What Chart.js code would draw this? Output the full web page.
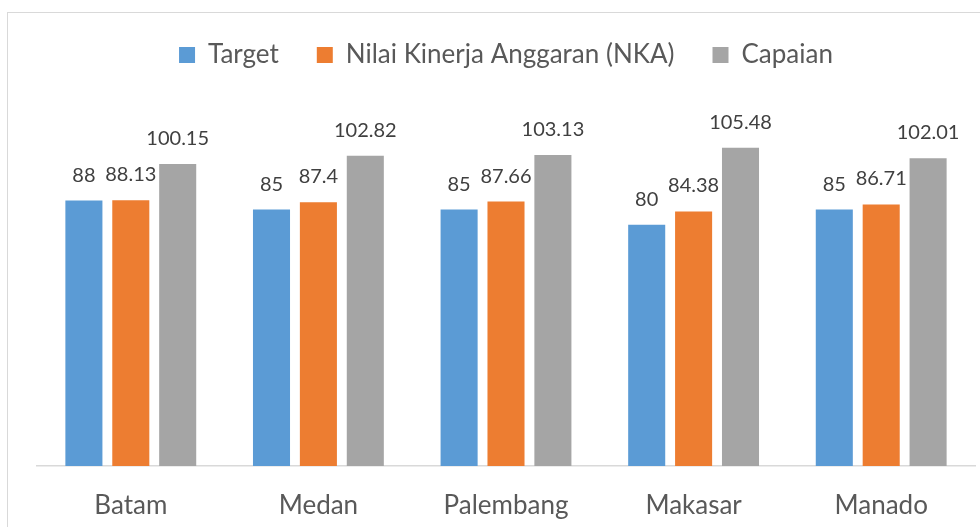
<!DOCTYPE html>
<html>
<head>
<meta charset="utf-8">
<script src="https://cdn.jsdelivr.net/npm/chart.js@4.4.1/dist/chart.umd.min.js"></script>
<style>
html,body{margin:0;padding:0;background:#fff;}
#wrap{position:relative;width:980px;height:527px;overflow:hidden;}
#frame{position:absolute;left:7px;top:12px;width:1000px;height:600px;border:1.5px solid #d9d9d9;box-sizing:border-box;}
canvas{position:absolute;left:0;top:0;}
</style>
</head>
<body>
<div id="wrap">
<div id="frame"></div>
<canvas id="c" width="980" height="527"></canvas>
</div>
<script>
const categories = ["Batam", "Medan", "Palembang", "Makasar", "Manado"];
const targetValues = [88, 85, 85, 80, 85];
const nkaValues = [88.13, 87.4, 87.66, 84.38, 86.71];
const capaianValues = [100.15, 102.82, 103.13, 105.48, 102.01];
const seriesNames = ["Target", "Nilai Kinerja Anggaran (NKA)", "Capaian"];

const FONT = "Lato";

const legendHeightPlugin = {
  id: 'legendHeight',
  beforeInit(chart) {
    const origFit = chart.legend.fit;
    chart.legend.fit = function () {
      origFit.bind(chart.legend)();
      this.height = 100;
    };
  }
};

const dataLabelPlugin = {
  id: 'dataLabels',
  afterDatasetsDraw(chart) {
    const ctx = chart.ctx;
    ctx.save();
    ctx.font = "20px " + FONT;
    ctx.fillStyle = "#404040";
    ctx.textAlign = "center";
    ctx.textBaseline = "alphabetic";
    chart.data.datasets.forEach((ds, i) => {
      const meta = chart.getDatasetMeta(i);
      meta.data.forEach((bar, j) => {
        ctx.fillText(String(ds.data[j]), bar.x, bar.y - 19);
      });
    });
    ctx.restore();
  }
};

new Chart(document.getElementById('c'), {
  type: 'bar',
  data: {
    labels: categories,
    datasets: [
      { label: seriesNames[0], data: targetValues, backgroundColor: '#5B9BD5' },
      { label: seriesNames[1], data: nkaValues, backgroundColor: '#ED7D31' },
      { label: seriesNames[2], data: capaianValues, backgroundColor: '#A5A5A5' }
    ]
  },
  options: {
    responsive: false,
    animation: false,
    devicePixelRatio: 1,
    layout: { padding: { left: 37, right: 5, top: 4, bottom: 0 } },
    datasets: { bar: { categoryPercentage: 0.75, barPercentage: 0.79 } },
    plugins: {
      legend: {
        position: 'top',
        labels: {
          font: { family: FONT, size: 26 },
          color: '#595959',
          boxWidth: 16,
          boxHeight: 16,
          padding: 38
        }
      },
      tooltip: { enabled: false }
    },
    scales: {
      x: {
        grid: { display: false, drawTicks: false },
        border: { color: '#d9d9d9', width: 1.5 },
        ticks: { font: { family: FONT, size: 26 }, color: '#595959', padding: 24 },
        afterFit(scale) { scale.height = 61; }
      },
      y: {
        display: false,
        min: 0,
        max: 120
      }
    }
  },
  plugins: [legendHeightPlugin, dataLabelPlugin]
});
</script>
</body>
</html>
